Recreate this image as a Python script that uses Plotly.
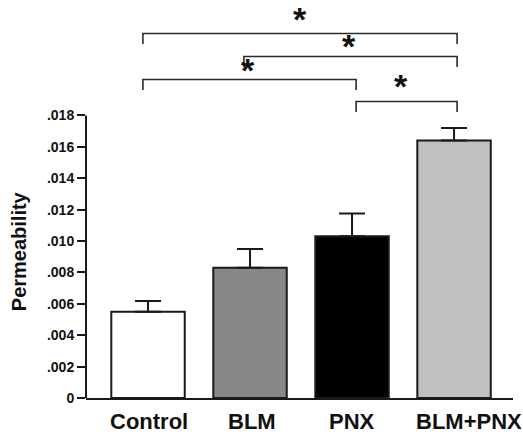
import plotly.graph_objects as go

# ---- data ----
categories = ["Control", "BLM", "PNX", "BLM+PNX"]
means = [0.0055, 0.0083, 0.0103, 0.0164]
sem = [0.00068, 0.0012, 0.00145, 0.0008]
ytick_vals = [0, 0.002, 0.004, 0.006, 0.008, 0.010, 0.012, 0.014, 0.016, 0.018]
ytick_text = ["0", ".002", ".004", ".006", ".008", ".010", ".012", ".014", ".016", ".018"]
comparisons = [(0, 3), (1, 3), (0, 2), (2, 3)]
bracket_levels = [0.02322, 0.02176, 0.02029, 0.01889]
y_title = "Permeability"

# ---- style ----
bar_colors = ["#ffffff", "#878787", "#000000", "#c0c0c0"]
edge = "#1a1a1a"
font_family = "Liberation Sans, Arial, Helvetica, sans-serif"
anchor_offset = [-0.05, -0.06, 0.04, 0.03]
bracket_drop = 0.00067
star_gap_px = [18, 13, 13, 19]
star_xshift = [0, -2, -2, -6]
label_xshift = [1, 2, 0, 15]

fig = go.Figure()
fig.add_trace(go.Bar(
    x=list(range(len(categories))), y=means,
    width=0.72,
    marker=dict(color=bar_colors, line=dict(color=edge, width=2)),
    error_y=dict(type="data", array=sem, arrayminus=[0] * len(sem), symmetric=False,
                 thickness=2, width=13, color=edge),
    showlegend=False,
))

shapes = []
# y axis line only up to .018
shapes.append(dict(type="line", xref="paper", yref="y", x0=0, x1=0, y0=0, y1=ytick_vals[-1],
                   line=dict(color=edge, width=2)))
annotations = []
for (a, b), lvl, gap, xs in zip(comparisons, bracket_levels, star_gap_px, star_xshift):
    xa = a + anchor_offset[a]
    xb = b + anchor_offset[b]
    shapes.append(dict(type="path", xref="x", yref="y",
                       path=f"M {xa},{lvl - bracket_drop} L {xa},{lvl} L {xb},{lvl} L {xb},{lvl - bracket_drop}",
                       line=dict(color="#2a2a2a", width=1.6)))
    annotations.append(dict(x=(xa + xb) / 2, y=lvl, xref="x", yref="y", text="*", showarrow=False,
                            xanchor="center", yanchor="middle", xshift=xs, yshift=gap - 3,
                            font=dict(family=font_family, size=34, color="#111", weight="bold")))

for i, (c, xs) in enumerate(zip(categories, label_xshift)):
    annotations.append(dict(x=i, y=0, xref="x", yref="paper", text=c, showarrow=False,
                            xanchor="center", yanchor="top", xshift=xs, yshift=-9,
                            font=dict(family=font_family, size=22, color="#111", weight="bold")))

annotations.append(dict(x=-0.157, y=0.00935, xref="paper", yref="y", text=y_title, textangle=-90,
                        showarrow=False, xanchor="center", yanchor="middle",
                        font=dict(family=font_family, size=20, color="#111", weight="bold")))

fig.update_layout(
    width=523, height=438,
    margin=dict(l=86, r=10, t=0, b=40),
    plot_bgcolor="white", paper_bgcolor="white",
    shapes=shapes, annotations=annotations,
    xaxis=dict(range=[-0.608, 3.578], showticklabels=False, ticks="", showgrid=False,
               zeroline=False, showline=True, linecolor=edge, linewidth=2),
    yaxis=dict(range=[0, 0.025358], tickvals=ytick_vals, ticktext=ytick_text,
               ticks="outside", ticklen=8, tickwidth=2, tickcolor=edge,
               showgrid=False, zeroline=False, showline=False,
               tickfont=dict(family=font_family, size=14, color="#111", weight="bold")),
)

fig.write_html("out.html")
